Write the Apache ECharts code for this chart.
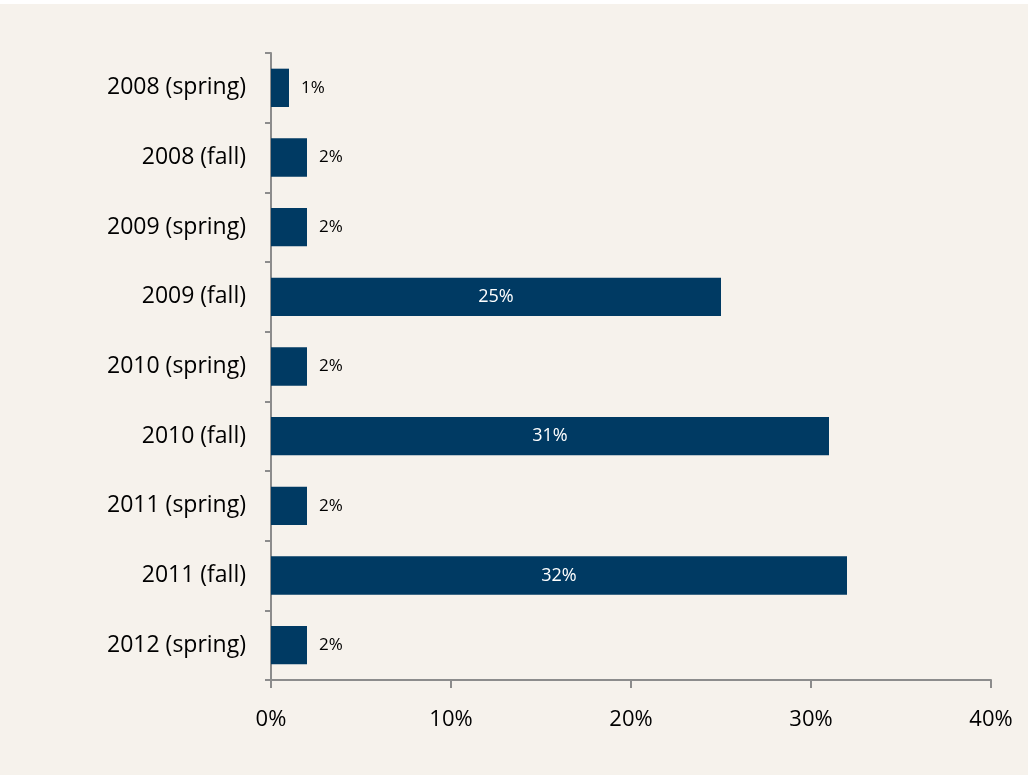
<!DOCTYPE html>
<html>
<head>
<meta charset="utf-8">
<script src="https://cdn.jsdelivr.net/npm/echarts@6/dist/echarts.min.js"></script>
<style>
html,body{margin:0;padding:0;background:#ffffff;}
#c{position:absolute;left:0;top:4px;width:1028px;height:771px;background:#f6f2ec;}
</style>
</head>
<body>
<div id="c"></div>
<script>
const categories = ["2008 (spring)","2008 (fall)","2009 (spring)","2009 (fall)","2010 (spring)","2010 (fall)","2011 (spring)","2011 (fall)","2012 (spring)"];
const values = [1, 2, 2, 25, 2, 31, 2, 32, 2];
const xTicks = [0, 10, 20, 30, 40];

const chart = echarts.init(document.getElementById('c'), null, {renderer:'canvas'});
const font = "'Open Sans', sans-serif";
chart.setOption({
  backgroundColor: '#f6f2ec',
  animation: false,
  grid: {left: 271, right: 37, top: 49, bottom: 95, containLabel: false},
  xAxis: {
    type: 'value', min: xTicks[0], max: xTicks[xTicks.length-1], interval: 10,
    axisLine: {show: true, lineStyle: {color: '#8c8c8c', width: 2}},
    axisTick: {show: true, length: 8, lineStyle: {color: '#8c8c8c', width: 2}},
    splitLine: {show: false},
    axisLabel: {formatter: v => v + '%', color: '#000', fontSize: 22, fontFamily: font, margin: 29}
  },
  yAxis: {
    type: 'category', data: categories, inverse: true,
    axisLine: {show: true, lineStyle: {color: '#8c8c8c', width: 2}},
    axisTick: {show: true, length: 6, inside: false, lineStyle: {color: '#8c8c8c', width: 2}},
    axisLabel: {color: '#000', fontSize: 23, fontFamily: font, margin: 25}
  },
  series: [{
    type: 'bar', data: values.map(v => ({
      value: v,
      label: v > 10 ? {position: 'inside', color: '#ffffff', fontSize: 18} : {position: 'right', distance: 12, color: '#000', fontSize: 17}
    })),
    barCategoryGap: '45%',
    itemStyle: {color: '#003a63'},
    label: {show: true, formatter: p => p.value + '%', fontFamily: font}
  }]
});
</script>
</body>
</html>
